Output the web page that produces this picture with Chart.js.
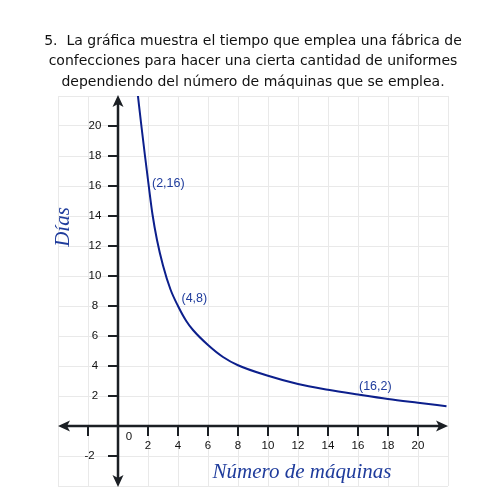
<!DOCTYPE html>
<html>
<head>
<meta charset="utf-8">
<script src="https://cdn.jsdelivr.net/npm/chart.js@4.4.1/dist/chart.umd.min.js"></script>
<style>
html,body{margin:0;padding:0;background:#fff;}
#wrap{width:500px;height:500px;position:relative;}
</style>
</head>
<body>
<div id="wrap"><canvas id="c" width="500" height="500"></canvas></div>
<script>
// ---- data ----
const titleLines = [
  "5.  La gráfica muestra el tiempo que emplea una fábrica de",
  "confecciones para hacer una cierta cantidad de uniformes",
  "dependiendo del número de máquinas que se emplea."
];
const machines = [1.33, 1.56, 1.8, 2.05, 2.3, 2.6, 3.0, 3.5, 4.0, 4.55, 5, 6, 7, 8, 10, 12, 14, 16, 18, 20, 21.9];
const days     = [22, 20, 18, 16, 14.1, 12.4, 10.7, 9.1, 8, 7.0, 6.4, 5.4, 4.6, 4.05, 3.35, 2.8, 2.42, 2.1, 1.8, 1.55, 1.32];
const xTickValues = [-2, 2, 4, 6, 8, 10, 12, 14, 16, 18, 20];
const yTickValues = [-2, 2, 4, 6, 8, 10, 12, 14, 16, 18, 20];
const pointLabels = ["(2,16)", "(4,8)", "(16,2)"];
const pointLabelX = [2, 4, 16];
const pointLabelY = [16, 8, 2];
const xTitle = "Número de máquinas";
const yTitle = "Días";

const AXIS_COLOR = "#1b1f24";
const BLUE = "#1f3c9c";

const overlay = {
  id: 'overlay',
  afterDraw(chart) {
    const ctx = chart.ctx;
    const xs = chart.scales.x, ys = chart.scales.y;
    const x0 = xs.getPixelForValue(0), y0 = ys.getPixelForValue(0);
    const L = chart.chartArea;
    ctx.save();
    // title
    ctx.fillStyle = "#111";
    ctx.font = "14px 'DejaVu Sans'";
    ctx.textAlign = "center";
    ctx.textBaseline = "middle";
    titleLines.forEach((t, i) => ctx.fillText(t, 253, 41 + i * 20.5));

    // axes lines
    ctx.strokeStyle = AXIS_COLOR;
    ctx.lineWidth = 2.5;
    ctx.beginPath();
    ctx.moveTo(L.left + 8, y0); ctx.lineTo(L.right - 8, y0);
    ctx.moveTo(x0, L.top + 8); ctx.lineTo(x0, L.bottom - 8);
    ctx.stroke();
    // arrow heads
    ctx.fillStyle = AXIS_COLOR;
    const arrow = (tx, ty, dx, dy) => {
      const len = 12, half = 5.5;
      const bx = tx - dx * len, by = ty - dy * len;
      const px = -dy, py = dx;
      ctx.beginPath();
      ctx.moveTo(tx, ty);
      ctx.lineTo(bx + px * half, by + py * half);
      ctx.lineTo(tx - dx * len * 0.75, ty - dy * len * 0.75);
      ctx.lineTo(bx - px * half, by - py * half);
      ctx.closePath();
      ctx.fill();
    };
    arrow(L.right, y0, 1, 0);
    arrow(L.left, y0, -1, 0);
    arrow(x0, L.top - 1, 0, -1);
    arrow(x0, L.bottom + 1, 0, 1);

    // tick marks
    ctx.lineWidth = 2;
    ctx.beginPath();
    xTickValues.forEach(v => {
      const p = Math.round(xs.getPixelForValue(v));
      ctx.moveTo(p, y0); ctx.lineTo(p, y0 + 10);
    });
    yTickValues.forEach(v => {
      const p = Math.round(ys.getPixelForValue(v));
      ctx.moveTo(x0 - 10, p); ctx.lineTo(x0, p);
    });
    ctx.stroke();

    // tick labels
    ctx.fillStyle = "#111";
    ctx.font = "11.5px 'Liberation Sans'";
    ctx.textAlign = "center";
    ctx.textBaseline = "middle";
    xTickValues.forEach(v => {
      if (v <= 0) return;
      ctx.fillText(String(v), xs.getPixelForValue(v), y0 + 20);
    });
    yTickValues.forEach(v => {
      const cx = v < 0 ? x0 - 28.5 : x0 - 23;
      ctx.fillText(String(v), cx, ys.getPixelForValue(v));
    });
    ctx.fillText("0", x0 + 11, y0 + 11);

    // point labels
    ctx.fillStyle = BLUE;
    ctx.font = "12.5px 'Liberation Sans'";
    ctx.textAlign = "left";
    ctx.textBaseline = "middle";
    ctx.fillText(pointLabels[0], xs.getPixelForValue(pointLabelX[0]) + 4, ys.getPixelForValue(pointLabelY[0]) - 2);
    ctx.fillText(pointLabels[1], xs.getPixelForValue(pointLabelX[1]) + 3.5, ys.getPixelForValue(pointLabelY[1]) - 7);
    ctx.fillText(pointLabels[2], xs.getPixelForValue(pointLabelX[2]) + 1, ys.getPixelForValue(pointLabelY[2]) - 9);

    // axis titles
    ctx.font = "italic 21px 'Liberation Serif'";
    ctx.textAlign = "center";
    ctx.textBaseline = "alphabetic";
    ctx.fillText(xTitle, 302, 478);
    ctx.save();
    ctx.translate(69, 227);
    ctx.rotate(-Math.PI / 2);
    ctx.fillText(yTitle, 0, 0);
    ctx.restore();
    ctx.restore();
  }
};

new Chart(document.getElementById('c'), {
  type: 'scatter',
  data: {
    datasets: [{
      data: machines.map((m, i) => ({ x: m, y: days[i] })),
      showLine: true,
      borderColor: "#0c1f8c",
      borderWidth: 2,
      pointRadius: 0,
      cubicInterpolationMode: 'monotone',
      fill: false
    }]
  },
  options: {
    responsive: false,
    animation: false,
    devicePixelRatio: 1,
    layout: { padding: { left: 58, right: 52, top: 96, bottom: 14 } },
    plugins: { legend: { display: false }, tooltip: { enabled: false }, title: { display: false } },
    scales: {
      x: {
        type: 'linear', min: -4, max: 22,
        ticks: { display: false, stepSize: 2 },
        grid: { color: "#e9e9e9", lineWidth: 1, drawTicks: false },
        border: { display: false }
      },
      y: {
        type: 'linear', min: -4, max: 22,
        ticks: { display: false, stepSize: 2 },
        grid: { color: "#e9e9e9", lineWidth: 1, drawTicks: false },
        border: { display: false }
      }
    }
  },
  plugins: [overlay]
});
</script>
</body>
</html>
